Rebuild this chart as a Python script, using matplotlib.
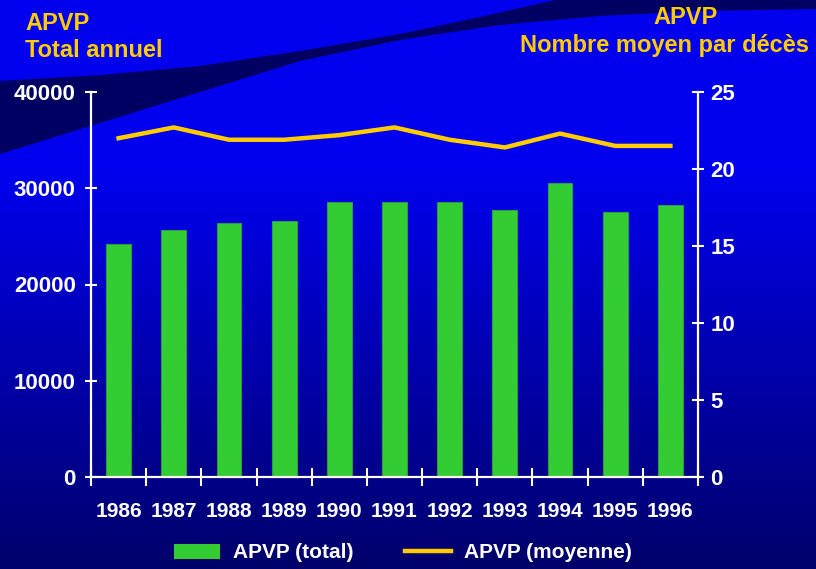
import numpy as np
import matplotlib
matplotlib.use("Agg")
import matplotlib.pyplot as plt
from matplotlib.patches import Patch, Polygon
from matplotlib.lines import Line2D

years = ["1986", "1987", "1988", "1989", "1990", "1991", "1992", "1993", "1994", "1995", "1996"]
apvp_total = [24200, 25700, 26400, 26600, 28600, 28600, 28600, 27700, 30500, 27500, 28300]
apvp_moyenne = [22.0, 22.7, 21.9, 21.9, 22.2, 22.7, 21.9, 21.4, 22.3, 21.5, 21.5]
left_ticks = [0, 10000, 20000, 30000, 40000]
right_ticks = [0, 5, 10, 15, 20, 25]

W, H = 816, 569
plt.rcParams['font.family'] = ['Liberation Sans', 'DejaVu Sans']
plt.rcParams['font.weight'] = 'bold'

fig = plt.figure(figsize=(W / 100, H / 100), dpi=100)

# background
bg = fig.add_axes([0, 0, 1, 1])
bg.set_xlim(0, W)
bg.set_ylim(H, 0)
bg.axis('off')
ys = np.linspace(0, H, 400)
top_c = np.array([0, 0, 238]) / 255
bot_c = np.array([0, 0, 106]) / 255
frac = np.clip((ys - 170) / (H - 170), 0, 1)
cols = top_c[None, :] * (1 - frac[:, None]) + bot_c[None, :] * frac[:, None]
img = np.repeat(cols[:, None, :], 2, axis=1)
bg.imshow(img, extent=[0, W, H, 0], aspect='auto', interpolation='bilinear')
upper = [(0, 81), (100, 75), (200, 66), (300, 51), (400, 34), (480, 17), (555, 0), (816, 0)]
lower = [(816, 9), (700, 11), (600, 16), (500, 25), (400, 40), (300, 61), (200, 92), (100, 123), (0, 154)]
bg.add_patch(Polygon(upper + lower, closed=True, facecolor='#000062', edgecolor='none'))

gold = '#FFCC00'
bg.text(25, 30, "APVP", color=gold, fontsize=17, fontweight='bold', ha='left', va='baseline')
bg.text(25, 57, "Total annuel", color=gold, fontsize=17, fontweight='bold', ha='left', va='baseline')
bg.text(686, 24, "APVP", color=gold, fontsize=17, fontweight='bold', ha='center', va='baseline')
bg.text(664, 52, "Nombre moyen par décès", color=gold, fontsize=17, fontweight='bold', ha='center', va='baseline')

# main axes
ax = fig.add_axes([91 / W, 1 - 477 / H, (698 - 91) / W, (477 - 92) / H])
ax.patch.set_alpha(0)
x = np.arange(len(years))
ax.bar(x, apvp_total, width=0.45, color='#33CC33', edgecolor='#2BAA3A', linewidth=0.6, zorder=2)
ax.set_xlim(-0.5, len(years) - 0.5)
ax.set_ylim(0, 40000)
ax.set_yticks(left_ticks)
ax.set_yticklabels([str(v) for v in left_ticks])
ax.set_xticks(x)
ax.set_xticklabels(years)
ax.set_xticks(np.arange(-0.5, len(years)), minor=True)
ax.tick_params(axis='x', which='major', length=0, pad=18, labelsize=15, labelcolor='white')
ax.tick_params(axis='x', which='minor', length=13, width=1.5, direction='inout', color='white')
ax.tick_params(axis='y', length=8, width=1.5, direction='inout', color='white', labelcolor='white', labelsize=16, pad=7)
for s in ['top', 'right']:
    ax.spines[s].set_visible(False)
for s in ['left', 'bottom']:
    ax.spines[s].set_color('white')
    ax.spines[s].set_linewidth(1.6)

ax2 = ax.twinx()
ax2.patch.set_alpha(0)
ax2.plot(x, apvp_moyenne, color=gold, linewidth=3.2, zorder=3)
ax2.set_ylim(0, 25)
ax2.set_yticks(right_ticks)
ax2.set_yticklabels([str(v) for v in right_ticks])
ax2.tick_params(axis='y', length=8, width=1.5, direction='inout', color='white', labelcolor='white', labelsize=16, pad=5)
for s in ['top', 'left', 'bottom']:
    ax2.spines[s].set_visible(False)
ax2.spines['right'].set_color('white')
ax2.spines['right'].set_linewidth(1.6)
for lab in ax.get_xticklabels() + ax.get_yticklabels() + ax2.get_yticklabels():
    lab.set_fontweight('bold')

handles = [Patch(facecolor='#33CC33', edgecolor='none'), Line2D([], [], color=gold, linewidth=3.2)]
leg = fig.legend(handles, ["APVP (total)", "APVP (moyenne)"], ncol=2, frameon=False,
                 loc='center', bbox_to_anchor=(403 / W, 1 - 553 / H),
                 prop={'weight': 'bold', 'size': 15}, handlelength=2.2, handleheight=0.72,
                 handletextpad=0.6, columnspacing=2.5, borderaxespad=0)
for t in leg.get_texts():
    t.set_color('white')

fig.savefig('out.png', dpi=100)
